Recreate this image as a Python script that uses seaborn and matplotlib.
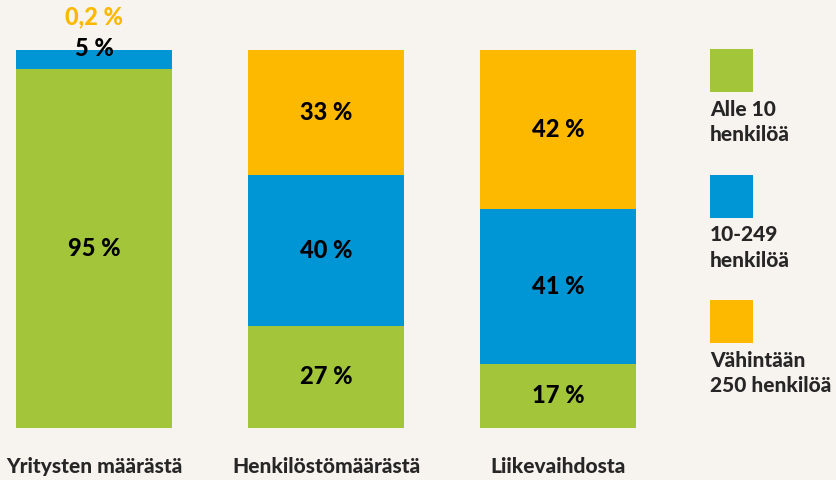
import numpy as np
import pandas as pd
import seaborn as sns
import matplotlib.pyplot as plt
from matplotlib.patches import Rectangle

categories = ["Yritysten määrästä", "Henkilöstömäärästä", "Liikevaihdosta"]
series = ["Alle 10\nhenkilöä", "10-249\nhenkilöä", "Vähintään\n250 henkilöä"]
small = [95, 27, 17]      # alle 10 henkilöä
medium = [5, 40, 41]      # 10-249 henkilöä
large = [0.2, 33, 42]     # vähintään 250 henkilöä
labels_small = ["95 %", "27 %", "17 %"]
labels_medium = ["5 %", "40 %", "41 %"]
labels_large = ["0,2 %", "33 %", "42 %"]

BG = "#f7f3ee"
GREEN = "#a3c53a"
BLUE = "#0095d5"
ORANGE = "#fdb800"
FONT = ["Lato", "DejaVu Sans"]
WEIGHT = "black"


def main():
    sns.set_theme(style="white")
    plt.rcParams["font.family"] = FONT

    df = pd.DataFrame({"cat": categories, "small": small,
                       "medium": medium, "large": large})
    df["c1"] = df["small"]
    df["c2"] = df["small"] + df["medium"]
    df["c3"] = df["c2"] + df["large"]

    fig = plt.figure(figsize=(8.36, 4.8), dpi=100, facecolor=BG)
    ax = fig.add_axes([1.2 / 836, 52 / 480, 649.6 / 836, 378 / 480])
    ax.set_facecolor(BG)

    w = 156 / 232
    for col, color in [("c3", ORANGE), ("c2", BLUE), ("c1", GREEN)]:
        sns.barplot(data=df, x="cat", y=col, color=color, width=w,
                    saturation=1, ax=ax, linewidth=0)

    ax.set_xlim(-0.4, 2.4)
    ax.set_ylim(0, 100)
    ax.set_xlabel("")
    ax.set_ylabel("")
    ax.set_yticks([])
    sns.despine(ax=ax, left=True, bottom=True)
    ax.tick_params(axis="x", length=0, pad=21, labelsize=15)
    for t in ax.get_xticklabels():
        t.set_fontweight(WEIGHT)

    kw = dict(ha="center", va="center", fontsize=17, fontweight=WEIGHT,
              color="black", clip_on=False)
    for i in range(len(categories)):
        ax.text(i, df["small"][i] / 2, labels_small[i], **kw)
        if i == 0:
            ax.text(i, 100.5, labels_medium[i], **kw)
            ax.text(i, 108.7, labels_large[i], **{**kw, "color": ORANGE})
        else:
            ax.text(i, df["c1"][i] + df["medium"][i] / 2, labels_medium[i], **kw)
            ax.text(i, df["c2"][i] + df["large"][i] / 2, labels_large[i], **kw)

    # legend
    for k, (lab, color) in enumerate(zip(series, [GREEN, BLUE, ORANGE])):
        top = 49 + k * 125.5
        fig.add_artist(Rectangle((710 / 836, 1 - (top + 43) / 480), 43 / 836, 43 / 480,
                                 transform=fig.transFigure, color=color, lw=0))
        fig.text(710 / 836, 1 - (top + 51) / 480, lab, ha="left", va="top",
                 fontsize=15, fontweight=WEIGHT, linespacing=1.4)

    fig.savefig("out.png", dpi=100, facecolor=BG)
    plt.close(fig)


if __name__ == "__main__":
    main()
